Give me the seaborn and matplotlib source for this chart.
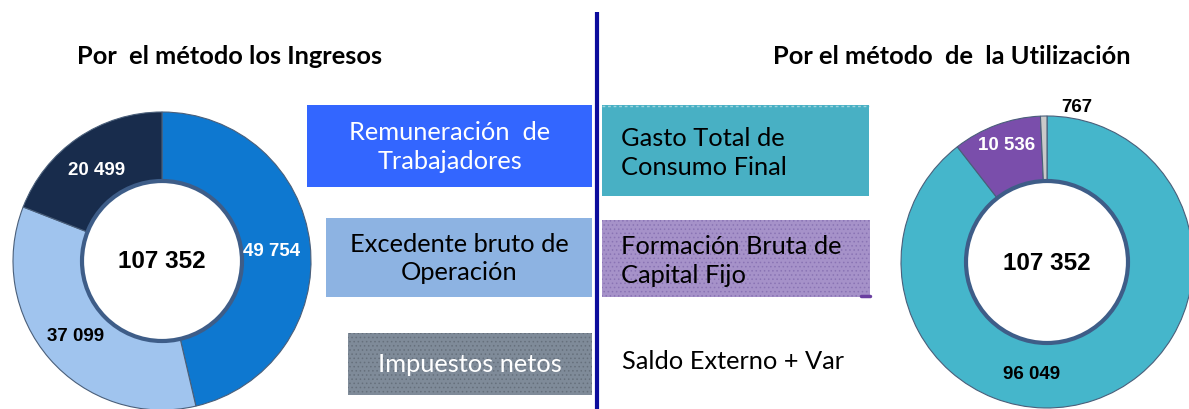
import numpy as np
import pandas as pd
import matplotlib
matplotlib.use("Agg")
import matplotlib.pyplot as plt
import seaborn as sns
from matplotlib.patches import Circle, Rectangle

# datos (millones)
ingresos_labels = ["Remuneración de Trabajadores", "Excedente bruto de Operación", "Impuestos netos"]
ingresos_values = [49754, 37099, 20499]
utilizacion_labels = ["Gasto Total de Consumo Final", "Formación Bruta de Capital Fijo", "Saldo Externo + Var"]
utilizacion_values = [96049, 10536, 767]
total_label = "107 352"

left_title = "Por  el método los Ingresos"
right_title = "Por el método  de  la Utilización"
left_boxes = ["Remuneración  de\nTrabajadores", "Excedente bruto de\nOperación", "Impuestos netos"]
right_boxes = ["Gasto Total de\nConsumo Final", "Formación Bruta de\nCapital Fijo", "Saldo Externo + Var"]

sns.set_theme(style="white")
plt.rcParams["font.family"] = ["Lato", "DejaVu Sans"]
plt.rcParams["text.color"] = "black"

W, H = 1189, 410
fig = plt.figure(figsize=(W / 100, H / 100), dpi=100)
ax = fig.add_axes([0, 0, 1, 1])
ax.set_xlim(0, W)
ax.set_ylim(0, H)
ax.axis("off")


def Y(y):
    # convert image-style y (from top) to axis y
    return H - y


def fmt(v):
    return f"{v:,}".replace(",", " ")


left_colors = ["#0e78d0", "#a0c4ee", "#182c4c"]
right_colors = ["#45b6cb", "#7a4eab", "#c9c9c9"]


def donut(values, colors, cx, cy, r_out, r_in):
    ax.pie(values, colors=colors, startangle=90, counterclock=False,
           center=(cx, Y(cy)), radius=r_out, frame=True,
           wedgeprops=dict(width=r_out - r_in + 6, edgecolor="#4a5f7a", linewidth=0.8))
    ax.add_patch(Circle((cx, Y(cy)), r_in, facecolor="white",
                        edgecolor="#3e5d88", linewidth=3, zorder=5))
    ax.text(cx, Y(cy), total_label, ha="center", va="center", fontsize=17.5,
            fontweight="bold", family="Liberation Sans", color="black", zorder=6)


donut(ingresos_values, left_colors, 162, 262, 149, 80)
donut(utilizacion_values, right_colors, 1047, 263, 146, 81)
ax.set_xlim(0, W)
ax.set_ylim(0, H)
ax.set_aspect("equal")

# valores de los segmentos
seg = [(ingresos_values[0], 272, 252, "white"), (ingresos_values[1], 76, 337, "black"),
       (ingresos_values[2], 97, 171, "white"), (utilizacion_values[0], 1032, 375, "black"),
       (utilizacion_values[1], 1007, 145, "white"), (utilizacion_values[2], 1077, 107, "black")]
for v, x, y, c in seg:
    ax.text(x, Y(y), fmt(v), ha="center", va="center", fontsize=13.5,
            fontweight="bold", family="Liberation Sans", color=c, zorder=6)

# titulos
ax.text(230, Y(57), left_title, ha="center", va="center", fontsize=18.3,
        fontweight="bold", color="black")
ax.text(952, Y(57), right_title, ha="center", va="center", fontsize=18.3,
        fontweight="bold", color="black")

# linea divisoria
ax.plot([597, 597], [Y(13), Y(412)], color="#0c0c9c", linewidth=3, solid_capstyle="butt")

plt.rcParams["hatch.linewidth"] = 0.6

# cajas izquierda
boxes_l = [(307, 106, 592, 188, "#3366ff", None, "white"),
           (326, 219, 592, 298, "#8db3e2", None, "black"),
           (348, 334, 592, 396, "#7f8b99", "#66707c", "white")]
for (x0, y0, x1, y1, fc, hc, tc), label in zip(boxes_l, left_boxes):
    ax.add_patch(Rectangle((x0, Y(y1)), x1 - x0, y1 - y0, facecolor=fc,
                           edgecolor=hc if hc else fc, hatch="...." if hc else None,
                           linewidth=0))
    ax.text((x0 + x1) / 2, Y((y0 + y1) / 2), label, ha="center", va="center",
            fontsize=18.3, color=tc, linespacing=1.3)

# cajas derecha
boxes_r = [(602, 106, 869, 197, "#48b0c4", None),
           (602, 221, 870, 298, "#a692c9", "#8a74b4")]
for (x0, y0, x1, y1, fc, hc) in boxes_r:
    ax.add_patch(Rectangle((x0, Y(y1)), x1 - x0, y1 - y0, facecolor=fc,
                           edgecolor=hc if hc else fc, hatch="...." if hc else None,
                           linewidth=0))
ax.plot([602, 869], [Y(106.5), Y(106.5)], color="#9fd4de", linewidth=1, linestyle=(0, (2, 2)))
ax.plot([861, 870], [Y(297), Y(297)], color="#6a3fa0", linewidth=2.5)

right_pos = [(621, 153), (621, 261), (622, 362)]
for (x, y), label in zip(right_pos, right_boxes):
    ax.text(x, Y(y), label, ha="left", va="center", fontsize=18.3,
            color="black", linespacing=1.3)

fig.savefig("out.png", dpi=100)
